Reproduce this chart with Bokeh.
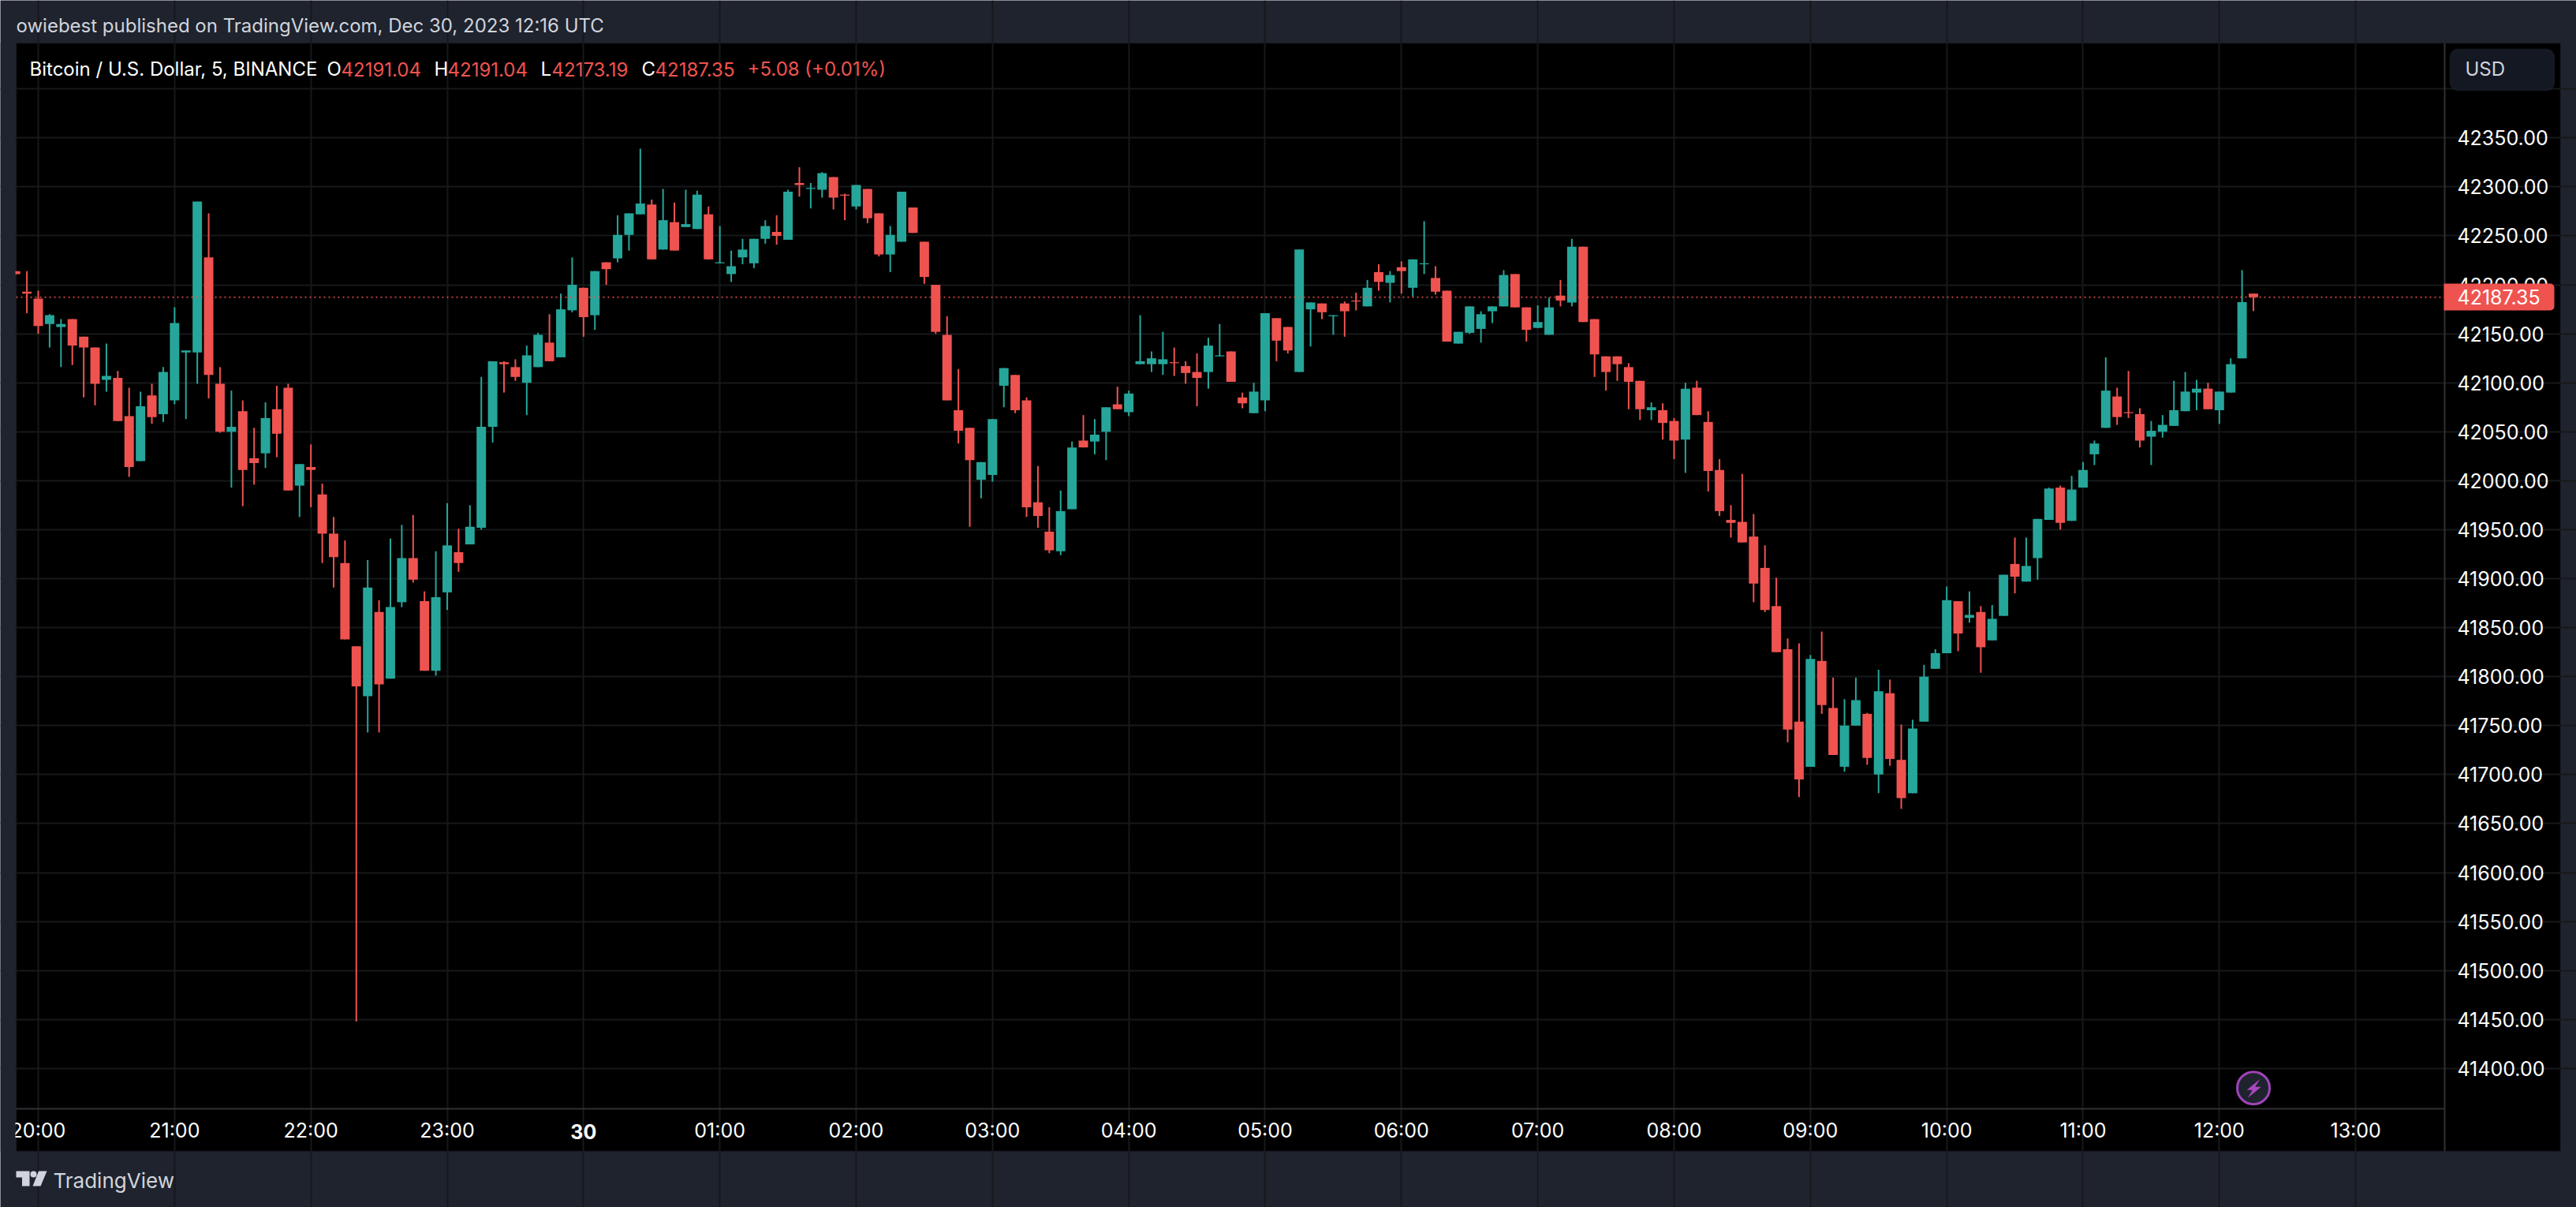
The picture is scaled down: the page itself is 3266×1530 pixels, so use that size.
# BTC/USD 5 minute candles, TradingView dark look

from bokeh.embed import file_html
from bokeh.models import (BoxAnnotation, ColumnDataSource, FixedTicker, Label,
                          NumeralTickFormatter, PolyAnnotation)
from bokeh.plotting import figure
from bokeh.resources import INLINE

# Bars, one every 5 minutes. Index 0 is 20:00
bar_index = list(range(-2, 196))

opens = [42214, 42193, 42186, 42160, 42157, 42165, 42147, 42136, 42103, 42105,
         42066, 42020, 42087, 42068, 42082, 42131, 42131, 42228, 42099, 42050,
         42071, 42023, 42028, 42073, 42095, 41995, 42014, 41986, 41946, 41916,
         41831, 41780, 41866, 41798, 41876, 41921, 41877, 41806, 41886, 41927,
         41935, 41952, 42055, 42121, 42116, 42100, 42116, 42141, 42126, 42174,
         42197, 42169, 42223, 42227, 42251, 42272, 42282, 42236, 42264, 42259,
         42257, 42272, 42222, 42211, 42228, 42222, 42247, 42254, 42246, 42304,
         42298, 42297, 42310, 42292, 42280, 42298, 42273, 42231, 42244, 42279,
         42244, 42200, 42149, 42072, 42054, 42001, 42006, 42097, 42108, 42082,
         41978, 41948, 41928, 41971, 42041, 42040, 42050, 42078, 42070, 42119,
         42119, 42119, 42121, 42117, 42111, 42111, 42127, 42132, 42085, 42069,
         42082, 42166, 42157, 42111, 42175, 42181, 42168, 42181, 42184, 42178,
         42213, 42202, 42218, 42197, 42221, 42207, 42194, 42140, 42151, 42155,
         42173, 42178, 42211, 42177, 42156, 42149, 42189, 42182, 42239, 42165,
         42127, 42127, 42116, 42102, 42072, 42072, 42061, 42042, 42095, 42060,
         42011, 41960, 41958, 41943, 41911, 41872, 41828, 41754, 41708, 41816,
         41768, 41708, 41750, 41762, 41700, 41783, 41715, 41681, 41754, 41808,
         41824, 41877, 41860, 41866, 41837, 41862, 41915, 41897, 41921, 41960,
         41993, 41959, 41993, 42027, 42054, 42086, 42070, 42068, 42045, 42050,
         42056, 42071, 42090, 42094, 42072, 42090, 42125, 42191.04]

highs = [42214, 42214, 42194, 42170, 42165, 42165, 42147, 42136, 42140, 42112,
         42095, 42091, 42099, 42116, 42177, 42133, 42285, 42273, 42116, 42092,
         42082, 42054, 42080, 42097, 42099, 42017, 42037, 41997, 41963, 41939,
         41831, 41919, 41878, 41941, 41955, 41965, 41887, 41928, 41977, 41951,
         41975, 42106, 42122, 42122, 42124, 42138, 42151, 42170, 42191, 42228,
         42197, 42214, 42223, 42271, 42273, 42339, 42287, 42298, 42284, 42297,
         42296, 42280, 42260, 42235, 42247, 42247, 42266, 42271, 42297, 42320,
         42304, 42315, 42310, 42293, 42302, 42298, 42273, 42260, 42295, 42279,
         42244, 42200, 42168, 42114, 42054, 42019, 42063, 42115, 42108, 42085,
         42015, 41973, 41990, 42040, 42067, 42063, 42075, 42096, 42092, 42169,
         42132, 42152, 42136, 42122, 42130, 42146, 42160, 42132, 42090, 42100,
         42171, 42166, 42157, 42236, 42182, 42181, 42169, 42183, 42192, 42205,
         42221, 42214, 42224, 42226, 42265, 42219, 42194, 42152, 42178, 42173,
         42178, 42215, 42211, 42177, 42179, 42187, 42205, 42247, 42239, 42165,
         42127, 42127, 42120, 42102, 42080, 42079, 42064, 42100, 42102, 42071,
         42022, 41975, 42007, 41966, 41934, 41901, 41839, 41834, 41822, 41846,
         41799, 41777, 41799, 41763, 41807, 41797, 41751, 41756, 41812, 41828,
         41892, 41877, 41887, 41872, 41873, 41904, 41942, 41942, 41961, 41993,
         41995, 42005, 42019, 42041, 42126, 42095, 42112, 42074, 42061, 42067,
         42102, 42111, 42103, 42100, 42091, 42125, 42215, 42191.04]

lows = [42211, 42171, 42150, 42136, 42116, 42118, 42085, 42077, 42091, 42061,
        42004, 42020, 42058, 42060, 42078, 42063, 42099, 42084, 42049, 41993,
        41974, 41996, 42013, 42024, 41990, 41963, 41973, 41916, 41891, 41838,
        41448, 41743, 41743, 41798, 41871, 41896, 41806, 41801, 41868, 41907,
        41935, 41950, 42039, 42090, 42102, 42067, 42116, 42122, 42126, 42172,
        42147, 42154, 42200, 42223, 42235, 42272, 42226, 42236, 42235, 42259,
        42257, 42226, 42222, 42203, 42221, 42217, 42242, 42241, 42246, 42290,
        42278, 42289, 42277, 42266, 42277, 42263, 42229, 42213, 42244, 42253,
        42201, 42150, 42082, 42038, 41953, 41982, 41999, 42075, 42069, 41963,
        41952, 41926, 41924, 41971, 42034, 42027, 42021, 42073, 42066, 42119,
        42111, 42108, 42107, 42099, 42076, 42094, 42127, 42101, 42074, 42069,
        42071, 42122, 42130, 42111, 42137, 42165, 42149, 42147, 42174, 42178,
        42194, 42182, 42191, 42188, 42211, 42190, 42142, 42140, 42150, 42141,
        42161, 42178, 42177, 42142, 42156, 42149, 42178, 42178, 42162, 42106,
        42092, 42102, 42073, 42062, 42062, 42042, 42022, 42008, 42067, 41989,
        41964, 41942, 41937, 41876, 41866, 41825, 41733, 41677, 41708, 41762,
        41720, 41703, 41750, 41710, 41681, 41709, 41665, 41681, 41754, 41808,
        41824, 41826, 41855, 41804, 41837, 41862, 41885, 41897, 41899, 41960,
        41950, 41959, 41993, 42016, 42054, 42057, 42064, 42034, 42016, 42044,
        42056, 42071, 42072, 42073, 42058, 42090, 42125, 42173.19]

closes = [42211, 42191, 42158, 42169, 42160, 42138, 42136, 42099, 42107, 42061,
          42014, 42076, 42065, 42111, 42161, 42133, 42285, 42108, 42050, 42055,
          42011, 42018, 42064, 42048, 41990, 42017, 42011, 41946, 41922, 41838,
          41790, 41891, 41792, 41871, 41921, 41899, 41806, 41881, 41934, 41916,
          41953, 42055, 42122, 42119, 42106, 42128, 42149, 42122, 42175, 42200,
          42167, 42214, 42216, 42251, 42273, 42283, 42226, 42266, 42235, 42262,
          42292, 42226, 42223, 42219, 42236, 42247, 42260, 42250, 42295, 42302,
          42299, 42314, 42289, 42291, 42302, 42268, 42231, 42251, 42295, 42253,
          42208, 42152, 42082, 42051, 42021, 42019, 42063, 42115, 42072, 41973,
          41964, 41929, 41969, 42034, 42034, 42047, 42075, 42073, 42089, 42122,
          42125, 42124, 42120, 42110, 42105, 42138, 42128, 42101, 42079, 42091,
          42171, 42143, 42133, 42236, 42182, 42172, 42169, 42173, 42183, 42197,
          42203, 42210, 42214, 42226, 42222, 42193, 42142, 42152, 42178, 42170,
          42178, 42210, 42177, 42154, 42162, 42177, 42184, 42239, 42162, 42129,
          42111, 42119, 42101, 42073, 42075, 42059, 42041, 42094, 42067, 42010,
          41969, 41957, 41937, 41895, 41868, 41825, 41746, 41695, 41818, 41771,
          41720, 41750, 41776, 41717, 41785, 41716, 41676, 41747, 41800, 41824,
          41878, 41844, 41863, 41830, 41859, 41904, 41902, 41913, 41961, 41992,
          41957, 41991, 42011, 42038, 42092, 42065, 42069, 42041, 42051, 42057,
          42072, 42091, 42094, 42073, 42091, 42119, 42182.27, 42187.35]

# Axis contents
price_ticks = list(range(41400, 42400, 50))
price_grid = list(range(41400, 42450, 50))
hour_ticks = list(range(0, 216, 12))
hour_labels = ["20:00", "21:00", "22:00", "23:00", "30", "01:00", "02:00", "03:00", "04:00",
               "05:00", "06:00", "07:00", "08:00", "09:00", "10:00", "11:00", "12:00", "13:00"]

last_price = 42187.35
up_color = "#26a69a"
down_color = "#ef5350"
page_bg = "#1e232e"
text_color = "#d1d4dc"

# Visible plot area, the frame itself is the whole page so header and footer text can sit in it
bar_lo, bar_hi = -1.944, 211.83
price_lo, price_hi = 41358.8, 42446.9

source = ColumnDataSource(data=dict(
    x=bar_index,
    high=highs,
    low=lows,
    top=[max(o, c) for o, c in zip(opens, closes)],
    bottom=[min(o, c) for o, c in zip(opens, closes)],
    color=[up_color if c >= o else down_color for o, c in zip(opens, closes)],
))

p = figure(width=3266, height=1530, output_backend="svg", toolbar_location=None,
           x_range=(-3.333, 223.43), y_range=(41258.1, 42490.4), y_axis_location="right",
           min_border_left=0, min_border_right=0, min_border_top=0, min_border_bottom=0,
           background_fill_color=page_bg, border_fill_color=page_bg, outline_line_color=None)


def box(left, right, top, bottom, level="overlay", **kw):
    p.add_layout(BoxAnnotation(left=left, right=right, top=top, bottom=bottom, level=level,
                               left_units="canvas", right_units="canvas", top_units="canvas",
                               bottom_units="canvas", fill_alpha=1, **kw))


def text(s, x, y, color=text_color, size="24px", style="normal", x_units="canvas", align="left"):
    p.add_layout(Label(x=x, y=y, x_units=x_units, y_units="canvas", text=s, text_color=color,
                       text_font="Inter", text_font_size=size, text_font_style=style,
                       text_baseline="middle", text_align=align, level="overlay"))


# Black block behind plot area and both axes
box(20, 3246, 54, 1459, level="image", fill_color="black", line_color="#2b2e37", line_width=2)

# Grid
p.xgrid.ticker = FixedTicker(ticks=hour_ticks)
p.ygrid.ticker = FixedTicker(ticks=price_grid)
p.xgrid.bounds = (price_lo, price_hi)
p.ygrid.bounds = (bar_lo, bar_hi)
p.grid.grid_line_color = "#17181a"
p.grid.grid_line_width = 2

# Axes
p.yaxis.fixed_location = bar_hi
p.yaxis.bounds = (price_lo, price_hi)
p.yaxis.ticker = FixedTicker(ticks=price_ticks)
p.yaxis.formatter = NumeralTickFormatter(format="0.00")
p.xaxis.fixed_location = price_lo
p.xaxis.bounds = (bar_lo, bar_hi)
p.xaxis.ticker = FixedTicker(ticks=hour_ticks)
p.xaxis.major_label_overrides = {t: ("" if lab == "30" else lab) for t, lab in zip(hour_ticks, hour_labels)}
for ax in (p.xaxis[0], p.yaxis[0]):
    ax.axis_line_color = "#303134"
    ax.axis_line_width = 2
    ax.major_tick_line_color = None
    ax.minor_tick_line_color = None
    ax.major_label_text_color = "white"
    ax.major_label_text_font = "Inter"
    ax.major_label_text_font_size = "25px"
p.xaxis.major_label_standoff = 7
p.yaxis.major_label_standoff = 10

# Candles
p.segment(x0="x", y0="high", x1="x", y1="low", line_color="color", line_width=2, source=source)
p.vbar(x="x", width=0.83, top="top", bottom="bottom", fill_color="color", line_color=None, source=source)

# Last price line
p.line([bar_lo, bar_hi], [last_price, last_price], line_color=down_color, line_width=2,
       line_dash="2 4", line_alpha=0.8)

# Left strip cuts the first bar and the 20:00 label at the block edge
box(0, 19, 54, 1459, fill_color=page_bg, line_color=None)
box(3098, 3100, 1405, 1459, fill_color="#303134", line_color=None)

text("30", hour_ticks[hour_labels.index("30")], 1434, color="white", size="25px", style="bold",
     x_units="data", align="center")

# Price tag
box(3098, 3238, 359, 393, fill_color=down_color, line_color=None,
    border_radius=dict(top_left=0, top_right=5, bottom_right=5, bottom_left=0))
text("42187.35", 3115, 376, color="white", size="25px")

# Currency button
box(3106, 3238, 62, 114, fill_color="#141823", line_color="#2b2e37", line_width=2, border_radius=10)
text("USD", 3125, 87)

# Header and footer
text("owiebest published on TradingView.com, Dec 30, 2023 12:16 UTC", 20, 32)
text("TradingView", 67, 1496, size="26px")

# Legend line
text("Bitcoin / U.S. Dollar, 5, BINANCE", 37, 87, color="white")
for s, x, c in [("O", 414, "white"), ("42191.04", 432, down_color),
                ("H", 550, "white"), ("42191.04", 567, down_color),
                ("L", 685, "white"), ("42173.19", 699, down_color),
                ("C", 813, "white"), ("42187.35", 830, down_color),
                ("+5.08 (+0.01%)", 947, down_color)]:
    text(s, x, 87, color=c)

# TradingView logo
logo_xs = [[20, 37, 37, 27.5, 27.5, 20], [48.5, 59, 51, 41]]
logo_ys = [[1484, 1484, 1503, 1503, 1492, 1492], [1484, 1484, 1503, 1503]]
for xs, ys in zip(logo_xs, logo_ys):
    p.add_layout(PolyAnnotation(xs=xs, ys=ys, xs_units="canvas", ys_units="canvas", level="overlay",
                                fill_color=text_color, fill_alpha=1, line_color=None))
box(38, 46, 1484, 1492, fill_color=text_color, line_color=None, border_radius=4)

# Purple flash badge on the latest bar
badge_x = bar_index[-1]
badge_y = 41380
p.scatter([badge_x], [badge_y], size=41, marker="circle", fill_color=page_bg,
          line_color="#a044b8", line_width=3)
bolt_dx = [8.5, -8.5, -1.3, -7.2, 9.8, 2.1]
bolt_dy = [-11.5, 2.7, 2.7, 12.6, -1.5, -1.5]
p.patch([badge_x + d / 14.403 for d in bolt_dx], [badge_y - d / 1.2416 for d in bolt_dy],
        fill_color="#ab47bc", line_color=None)

open("out.html", "w").write(file_html(p, INLINE))
